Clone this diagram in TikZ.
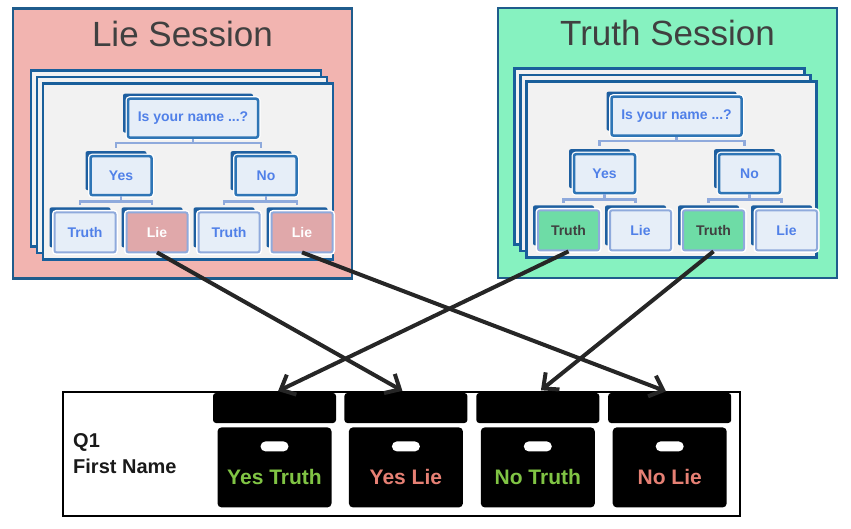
\documentclass[tikz,border=0pt]{standalone}
\usepackage{fontspec}
\setmainfont{Liberation Sans}
\usetikzlibrary{positioning,arrows.meta,shadows}

\definecolor{liebg}{RGB}{242,180,176}
\definecolor{truthbg}{RGB}{134,242,192}
\definecolor{sessionedge}{RGB}{31,92,140}
\definecolor{cardfill}{RGB}{242,242,242}
\definecolor{cardedge}{RGB}{25,95,155}
\definecolor{boxedge}{RGB}{46,117,182}
\definecolor{boxshade}{RGB}{30,95,160}
\definecolor{leafedge}{RGB}{143,170,220}
\definecolor{boxfill}{RGB}{230,238,248}
\definecolor{treetext}{RGB}{80,128,232}
\definecolor{liefill}{RGB}{224,168,170}
\definecolor{truthfill}{RGB}{110,220,166}
\definecolor{darktext}{RGB}{64,64,64}
\definecolor{yesgreen}{RGB}{128,196,68}
\definecolor{nosalmon}{RGB}{230,128,116}
\definecolor{arrowgray}{RGB}{38,38,38}

\begin{document}
\begin{tikzpicture}[x=1pt,y=-1pt,
  session/.style={rectangle, draw=sessionedge, line width=2.5pt, minimum width=339pt, minimum height=270pt, inner sep=0pt},
  title/.style={text=darktext, font=\fontsize{35}{40}\selectfont, inner sep=0pt},
  card/.style={rectangle, draw=cardedge, line width=2.2pt, fill=cardfill, minimum width=290pt, minimum height=176pt, inner sep=0pt,
    general shadow={draw=cardedge, fill=cardfill, line width=2.2pt, shadow xshift=-12pt, shadow yshift=13pt},
    general shadow={draw=cardedge, fill=cardfill, line width=2.2pt, shadow xshift=-6pt, shadow yshift=6.5pt}},
  treebox/.style={rectangle, rounded corners=2pt, draw=boxedge, line width=2.5pt, fill=boxfill, text=treetext,
    font=\bfseries\fontsize{14}{16}\selectfont, minimum width=61pt, minimum height=39pt, inner sep=0pt,
    general shadow={fill=boxshade, shadow xshift=-5pt, shadow yshift=5pt},
    preaction={draw=white, line width=5pt}},
  leafbox/.style={treebox, draw=leafedge, line width=2pt, minimum height=40pt},
  link/.style={draw=leafedge, line width=2.5pt},
  answer/.style={rectangle, draw=black, line width=2pt, fill=white, minimum width=677pt, minimum height=124pt},
  qtext/.style={align=left, text=black!90, font=\bfseries\fontsize{20}{26}\selectfont, inner sep=0pt},
  lid/.style={rectangle, fill=black, rounded corners=3pt, minimum width=123pt, minimum height=30pt, inner sep=0pt},
  crate/.style={rectangle, fill=black, rounded corners=4pt, minimum width=114pt, minimum height=80pt, inner sep=0pt},
  handle/.style={rectangle, fill=white, rounded corners=5pt, minimum width=28pt, minimum height=10pt, inner sep=0pt},
  tag/.style={font=\bfseries\fontsize{21}{24}\selectfont, inner sep=0pt},
  arrow/.style={draw=arrowgray, line width=4pt, -{Straight Barb[length=12pt,width=22pt]}, shorten >=4pt}]

  \useasboundingbox (0,0) rectangle (851,528);

  \node [session, fill=liebg] (lie_session) at (182.5,143.5) {};
  \node [title, anchor=base] (lie_title) at ([yshift=-39pt]lie_session.north) {Lie Session};
  \node [card] (lie_card) at (188,171.5) {};
  \node [treebox, minimum width=130pt, below=15pt of lie_card.north, xshift=5pt] (lie_q) {Is your name ...?};
  \node [treebox, below=16pt of lie_q, xshift=-72pt] (lie_yes) {Yes};
  \node [treebox, below=16pt of lie_q, xshift=73pt] (lie_no) {No};
  \node [leafbox, below=15pt of lie_yes, xshift=-36pt] (lie_truth1) {Truth};
  \node [leafbox, fill=liefill, text=white, below=15pt of lie_yes, xshift=36pt] (lie_lie1) {Lie};
  \node [leafbox, below=15pt of lie_no, xshift=-37pt] (lie_truth2) {Truth};
  \node [leafbox, fill=liefill, text=white, below=15pt of lie_no, xshift=36pt] (lie_lie2) {Lie};
  \draw [link, shorten >=7pt] (lie_q.south) -- ++(0,4) -| ([xshift=-5pt]lie_yes.north);
  \draw [link, shorten >=7pt] (lie_q.south) -- ++(0,4) -| ([xshift=-5pt]lie_no.north);
  \draw [link, shorten >=6pt] (lie_yes.south) -- ++(0,5) -| ([xshift=-5pt]lie_truth1.north);
  \draw [link, shorten >=6pt] (lie_yes.south) -- ++(0,5) -| ([xshift=-5pt]lie_lie1.north);
  \draw [link, shorten >=6pt] (lie_no.south) -- ++(0,5) -| ([xshift=-5pt]lie_truth2.north);
  \draw [link, shorten >=6pt] (lie_no.south) -- ++(0,5) -| ([xshift=-5pt]lie_lie2.north);

  \node [session, fill=truthbg] (truth_session) at (667.5,143) {};
  \node [title, anchor=base] (truth_title) at ([yshift=-39pt]truth_session.north) {Truth Session};
  \node [card] (truth_card) at (671.5,169.5) {};
  \node [treebox, minimum width=130pt, below=15pt of truth_card.north, xshift=5pt] (truth_q) {Is your name ...?};
  \node [treebox, below=16pt of truth_q, xshift=-72pt] (truth_yes) {Yes};
  \node [treebox, below=16pt of truth_q, xshift=73pt] (truth_no) {No};
  \node [leafbox, fill=truthfill, text=darktext, below=15pt of truth_yes, xshift=-36pt] (truth_truth1) {Truth};
  \node [leafbox, below=15pt of truth_yes, xshift=36pt] (truth_lie1) {Lie};
  \node [leafbox, fill=truthfill, text=darktext, below=15pt of truth_no, xshift=-36pt] (truth_truth2) {Truth};
  \node [leafbox, below=15pt of truth_no, xshift=37pt] (truth_lie2) {Lie};
  \draw [link, shorten >=7pt] (truth_q.south) -- ++(0,4) -| ([xshift=-5pt]truth_yes.north);
  \draw [link, shorten >=7pt] (truth_q.south) -- ++(0,4) -| ([xshift=-5pt]truth_no.north);
  \draw [link, shorten >=6pt] (truth_yes.south) -- ++(0,5) -| ([xshift=-5pt]truth_truth1.north);
  \draw [link, shorten >=6pt] (truth_yes.south) -- ++(0,5) -| ([xshift=-5pt]truth_lie1.north);
  \draw [link, shorten >=6pt] (truth_no.south) -- ++(0,5) -| ([xshift=-5pt]truth_truth2.north);
  \draw [link, shorten >=6pt] (truth_no.south) -- ++(0,5) -| ([xshift=-5pt]truth_lie2.north);

  \node [answer] (answer_box) at (401.5,454) {};
  \node [qtext, anchor=west] (q1_label) at ([xshift=11pt]answer_box.west) {Q1\\First Name};
  \node [lid] (lid1) at (274.5,408) {};
  \node [lid, right=8pt of lid1] (lid2) {};
  \node [lid, right=8.5pt of lid2] (lid3) {};
  \node [lid, right=8.5pt of lid3] (lid4) {};
  \node [crate, below=4pt of lid1] (crate1) {};
  \node [crate, below=4pt of lid2] (crate2) {};
  \node [crate, below=4pt of lid3] (crate3) {};
  \node [crate, below=4pt of lid4] (crate4) {};
  \node [handle, below=14pt of crate1.north] (handle1) {};
  \node [handle, below=14pt of crate2.north] (handle2) {};
  \node [handle, below=14pt of crate3.north] (handle3) {};
  \node [handle, below=14pt of crate4.north] (handle4) {};
  \node [tag, text=yesgreen, yshift=-10pt] (tag1) at (crate1.center) {Yes Truth};
  \node [tag, text=nosalmon, yshift=-10pt] (tag2) at (crate2.center) {Yes Lie};
  \node [tag, text=yesgreen, yshift=-10pt] (tag3) at (crate3.center) {No Truth};
  \node [tag, text=nosalmon, yshift=-10pt] (tag4) at (crate4.center) {No Lie};

  \draw [arrow] ([yshift=1pt]lie_lie1.south) -- (lid2.north);
  \draw [arrow] ([yshift=1pt]lie_lie2.south) -- (lid4.north);
  \draw [arrow] (truth_truth1.south) -- (lid1.north);
  \draw [arrow] (truth_truth2.south) -- (lid3.north);
\end{tikzpicture}
\end{document}
